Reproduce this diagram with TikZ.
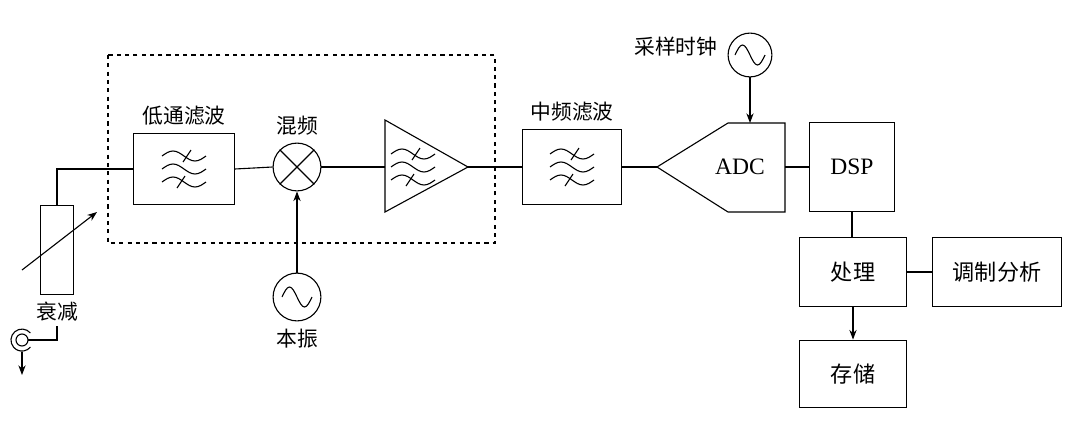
\documentclass[tikz,border=0pt]{standalone}
\usepackage{fontspec}
\setmainfont{Liberation Serif}
\newfontfamily\cjk{Noto Sans CJK SC}
\usetikzlibrary{positioning,arrows.meta}
\tikzset{
  blk/.style 2 args={draw, thick, minimum width={0.72pt*#1}, minimum height={0.72pt*#2}, inner sep=0pt},
  lbl/.style={font=\cjk\fontsize{15}{15}\selectfont, inner sep=1pt},
  txt/.style={font=\cjk\fontsize{16}{16}\selectfont},
  osc/.style={draw, thick, circle, minimum size={0.72pt*#1}, inner sep=0pt},
  waves/.pic={
    \foreach \dy in {-13,0,13}
      \draw (-22,\dy) sin (-11,\dy-5) cos (0,\dy) sin (11,\dy+5) cos (22,\dy);
    \draw (-1,-7) -- (7,-19);
    \draw (-7,19) -- (1,7);
  },
  sine/.pic={
    \draw (-15,0) sin (-7.5,-10) cos (0,0) sin (7.5,10) cos (15,0);
  }
}
\begin{document}
\begin{tikzpicture}[x=0.0254cm, y=-0.0254cm, thick, >={Stealth[length=7pt]}]
  \useasboundingbox (0,0) rectangle (1080,439);

  \draw[dashed] (108,55) rectangle (495,243);

  % front end
  \node[blk={34}{90}] (att) at (57,250) {};
  \node[lbl, below=3pt of att] (attl) {衰减};
  \draw[->] (22,270) -- (97,212);

  \node[blk={101}{72}] (lpf) at (184,169) {};
  \pic at (lpf) {waves};
  \node[lbl, above=4pt of lpf] {低通滤波};

  \node[osc=48] (mix) at (297,167) {};
  \draw (mix.45) -- (mix.225) (mix.135) -- (mix.315);
  \node[lbl, above=4pt of mix] {混频};

  \node[osc=48] (lo) at (297,297) {};
  \pic at (lo) {sine};
  \node[lbl, below=4pt of lo] {本振};

  \coordinate (amp) at (385,167);
  \draw (385,120) -- (468,167) coordinate (ampo) -- (385,212) -- cycle;
  \pic at (413,167) {waves};

  \node[blk={100}{75}] (iff) at (572,167) {};
  \pic at (iff) {waves};
  \node[lbl, above=4pt of iff] {中频滤波};

  % converter
  \draw (657,167) coordinate (adci) -- (728,123) -- (785,123) -- (785,212) -- (728,212) -- cycle;
  \node[font=\fontsize{17}{17}\selectfont] (adc) at (740,167) {ADC};
  \coordinate (adct) at (750,123);
  \coordinate (adco) at (785,167);

  \node[osc=44] (clk) at (750,55) {};
  \pic at (clk) {sine};
  \node[lbl, left=6pt of clk, yshift=6pt] {采样时钟};

  \node[blk={85}{89}] (dsp) at (852,167) {\fontsize{17}{17}\selectfont DSP};
  \node[blk={107}{70}, txt] (proc) at (853,272) {处理};
  \node[blk={129}{70}, txt] (mod) at (997,272) {调制分析};
  \node[blk={107}{68}, txt] (stor) at (853,374) {存储};

  % connectors
  \draw (att.north) |- (lpf.west);
  \draw (lpf.east) -- (mix.west);
  \draw (mix.east) -- (amp);
  \draw (ampo) -- (iff.west);
  \draw (iff.east) -- (adci);
  \draw[->] (lo.north) -- (mix.south);
  \draw[->] (clk.south) -- (adct);
  \draw (adco) -- (dsp.west);
  \draw (dsp.south) -- (dsp.south |- proc.north);
  \draw (proc.east) -- (mod.west);
  \draw[->] (proc.south) -- (stor.north);

  % input connector
  \coordinate (rfin) at (22,340);
  \draw (rfin) circle [radius=6];
  \draw (30.4,333) arc [start angle=-40, end angle=-320, radius=11];
  \draw (28,340) -- (57,340) -- (57,326);
  \draw[->] (22,352) -- (22,375);
\end{tikzpicture}
\end{document}
